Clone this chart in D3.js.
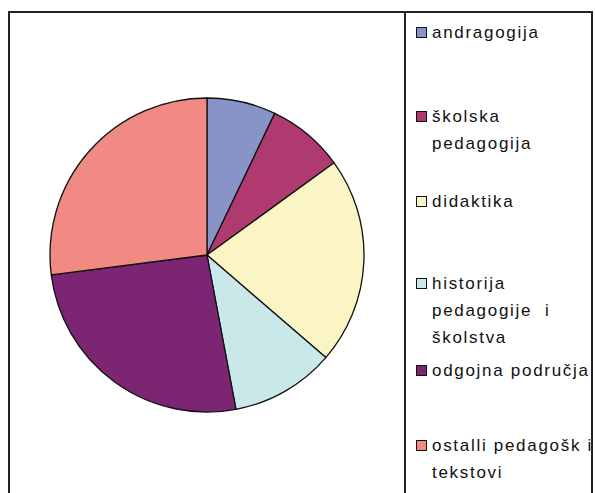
<!DOCTYPE html>
<html>
<head>
<meta charset="utf-8">
<script src="https://cdn.jsdelivr.net/npm/d3@7"></script>
<style>
  body { margin: 0; background: #fff; }
  svg { display: block; }
  .legend text { font-family: "Liberation Sans", Arial, sans-serif; font-size: 17px; letter-spacing: 1.7px; fill: #111; }
</style>
</head>
<body>
<div id="chart"></div>
<script>
var categories = ["andragogija", "školska pedagogija", "didaktika", "historija pedagogije i školstva", "odgojna područja", "ostalli pedagošk i tekstovi"];
var values = [7.1, 7.9, 21.3, 10.7, 25.9, 27.0];
var colors = ["#8894c8", "#ae3a70", "#fbf5c5", "#c8e8ea", "#7b2573", "#f28a84"];
// legend text as it wraps in the picture
var legendLines = [
    ["andragogija"],
    ["školska", "pedagogija"],
    ["didaktika"],
    ["historija", "pedagogije  i", "školstva"],
    ["odgojna područja"],
    ["ostalli pedagošk i", "tekstovi"]
];

var width = 595,
    height = 493;

var svg = d3.select("#chart").append("svg")
    .attr("width", width)
    .attr("height", height);

// chart frame
svg.append("path")
    .attr("d", "M9,520 V12 H592 V520")
    .style("fill", "none")
    .style("stroke", "#222")
    .style("stroke-width", 2);

svg.append("line")
    .attr("x1", 405).attr("x2", 405)
    .attr("y1", 12).attr("y2", 520)
    .style("stroke", "#222")
    .style("stroke-width", 2);

var pie = d3.pie().sort(null).value(function(d) { return d; });
var arc = d3.arc().innerRadius(0).outerRadius(157);

var g = svg.append("g")
    .attr("transform", "translate(207,255)");

g.selectAll("path")
    .data(pie(values))
    .enter().append("path")
    .attr("d", arc)
    .style("fill", function(d, i) { return colors[i]; })
    .style("stroke", "#111")
    .style("stroke-width", 1.3)
    .style("stroke-linejoin", "round");

var itemY = [38, 122, 207, 289, 376, 451];
var lineGap = 27;

var legend = svg.append("g")
    .attr("class", "legend")
    .selectAll("g")
    .data(categories)
    .enter().append("g")
    .attr("transform", function(d, i) { return "translate(0," + itemY[i] + ")"; });

legend.append("rect")
    .attr("x", 416.5)
    .attr("y", -10.5)
    .attr("width", 10)
    .attr("height", 10)
    .style("fill", function(d, i) { return colors[i]; })
    .style("stroke", "#111")
    .style("stroke-width", 1);

legend.append("text")
    .attr("x", 432)
    .selectAll("tspan")
    .data(function(d, i) { return legendLines[i]; })
    .enter().append("tspan")
    .attr("x", 432)
    .attr("y", function(d, j) { return j * lineGap; })
    .style("white-space", "pre")
    .text(function(d) { return d; });
</script>
</body>
</html>
